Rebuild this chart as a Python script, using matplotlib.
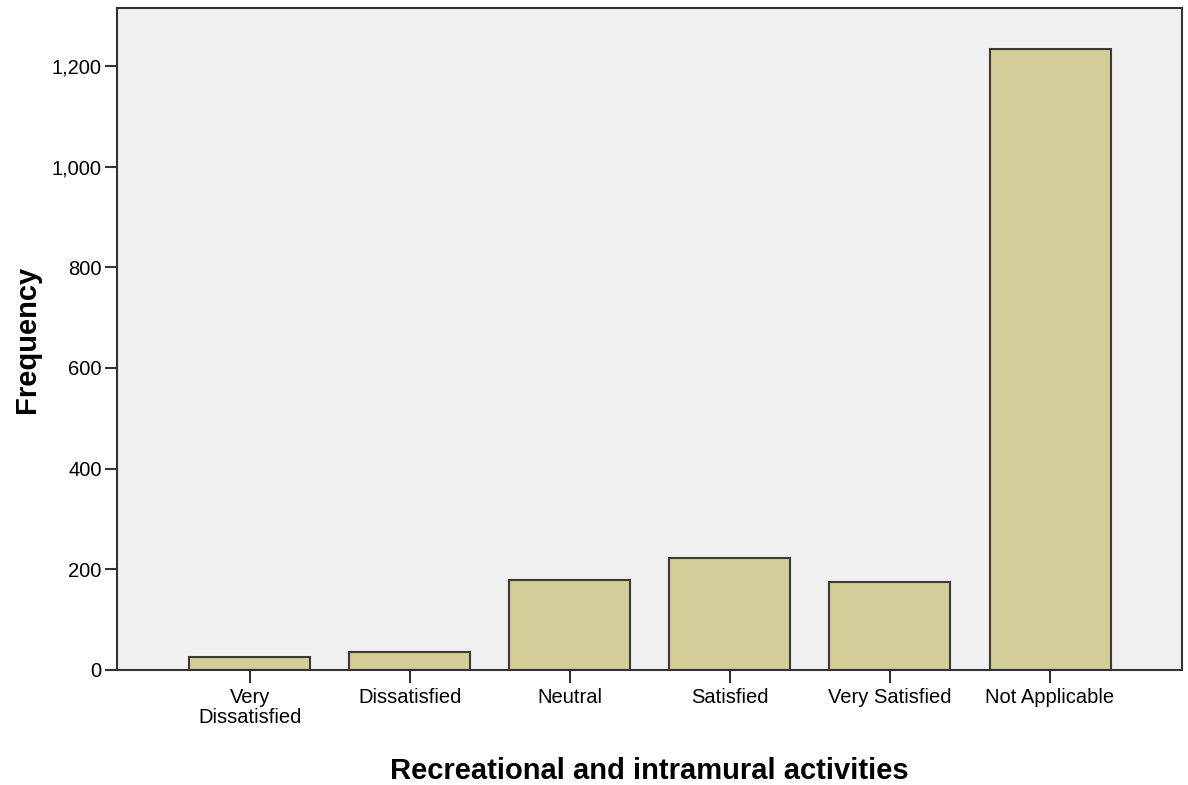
import matplotlib
matplotlib.use("Agg")
import matplotlib.pyplot as plt
from matplotlib.ticker import FuncFormatter
import numpy as np

plt.rcParams['font.family'] = ['Liberation Sans', 'DejaVu Sans']

# categories and frequencies
categories = ["Very\nDissatisfied", "Dissatisfied", "Neutral", "Satisfied",
              "Very Satisfied", "Not Applicable"]
counts = [25, 35, 179, 222, 175, 1233]
y_ticks = [0, 200, 400, 600, 800, 1000, 1200]

fig = plt.figure(figsize=(11.88, 7.85), dpi=100)
ax = fig.add_axes([0.0985, 0.1465, 0.8965, 0.8433])
ax.set_facecolor('#f0f0f0')

x = np.arange(len(categories))
ax.bar(x, counts, width=0.756, color='#d3ce97', edgecolor='#3a3a3a', linewidth=1.5, zorder=2)

ax.set_xlim(-0.83, len(categories) - 1 + 0.825)
ax.set_ylim(0, 1315)
ax.set_yticks(y_ticks)
ax.yaxis.set_major_formatter(FuncFormatter(lambda v, p: f"{int(v):,}"))
ax.set_xticks(x)
ax.set_xticklabels(categories, linespacing=1.05)

for s in ax.spines.values():
    s.set_linewidth(1.5)
    s.set_color('#333333')
ax.tick_params(axis='both', length=9, width=1.5, color='#333333', labelsize=14.5, pad=2)
ax.tick_params(axis='x', pad=4)

ax.set_xlabel("Recreational and intramural activities", fontsize=21, fontweight='bold', labelpad=22)
ax.set_ylabel("Frequency", fontsize=21, fontweight='bold', labelpad=8)

fig.savefig("out.png", dpi=100)
